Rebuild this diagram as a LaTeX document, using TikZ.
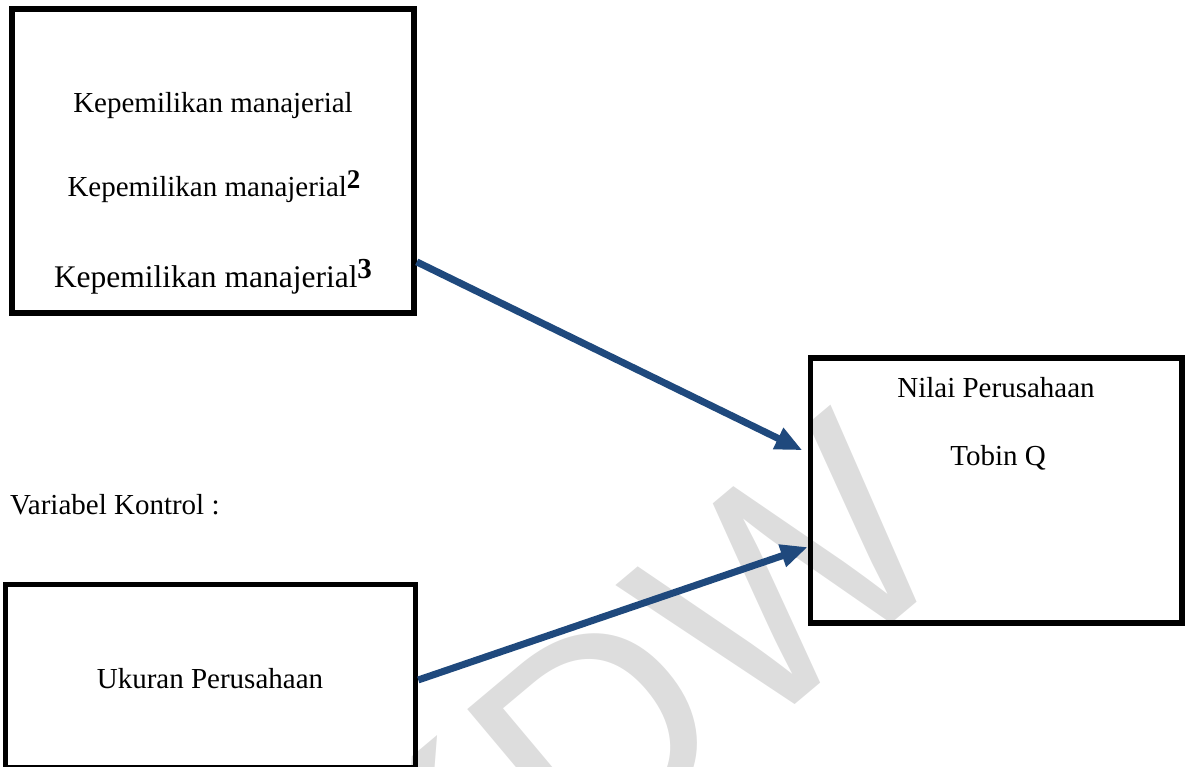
\documentclass[tikz,border=0pt]{standalone}
\usepackage{fontspec}
\setmainfont{Liberation Serif}
\newfontfamily\wmfont{Liberation Sans}
\usetikzlibrary{arrows.meta,calc}

\begin{document}
\begin{tikzpicture}[x=1pt,y=-1pt,
    box/.style={draw=black, line width=5.5pt, inner sep=0pt},
    txt/.style={font=\fontsize{29}{34}\selectfont, inner sep=0pt, anchor=base},
    link/.style={-{Triangle[length=27pt,width=22pt]}, line width=7pt, myblue}]

    \definecolor{myblue}{RGB}{31, 73, 125}
    \definecolor{mygray}{RGB}{221, 221, 221}
    \useasboundingbox (0,0) rectangle (1190,767);

    % watermark
    \node[text=mygray, inner sep=0pt, anchor=base east, rotate=40,
          font=\wmfont\fontsize{300}{300}\selectfont] (wm) at (965,562) {UKDW};

    % boxes
    \node[box, minimum width=402pt, minimum height=304pt] (mgr) at (213,161) {};
    \node[box, minimum width=371.5pt, minimum height=265pt] (nilai) at (996.25,490.5) {};
    \node[box, minimum width=410pt, minimum height=183pt] (ukuran) at (210.5,676) {};

    % texts
    \node[txt] (m1) at (213,113) {Kepemilikan manajerial};
    \node[txt] (m2) at (214,197) {Kepemilikan manajerial\raisebox{9pt}{\fontsize{27}{27}\selectfont\bfseries 2}};
    \node[txt, font=\fontsize{31.5}{36}\selectfont] (m3) at (213,287) {Kepemilikan manajerial\raisebox{9pt}{\fontsize{29}{29}\selectfont\bfseries 3}};
    \node[txt] (n1) at (996,397) {Nilai Perusahaan};
    \node[txt] (n2) at (998,465) {Tobin Q};
    \node[txt] (u1) at (210,688) {Ukuran Perusahaan};
    \node[txt, anchor=base west] (kontrol) at (10,514) {Variabel Kontrol :};

    % arrows
    \draw[link, shorten >=6pt] ($(mgr.north east)!0.826!(mgr.south east)$) -- ($(nilai.north west)!0.361!(nilai.south west)$);
    \draw[link] ($(ukuran.north east)!0.521!(ukuran.south east)$) -- ($(nilai.north west)!0.709!(nilai.south west)$);

\end{tikzpicture}
\end{document}
